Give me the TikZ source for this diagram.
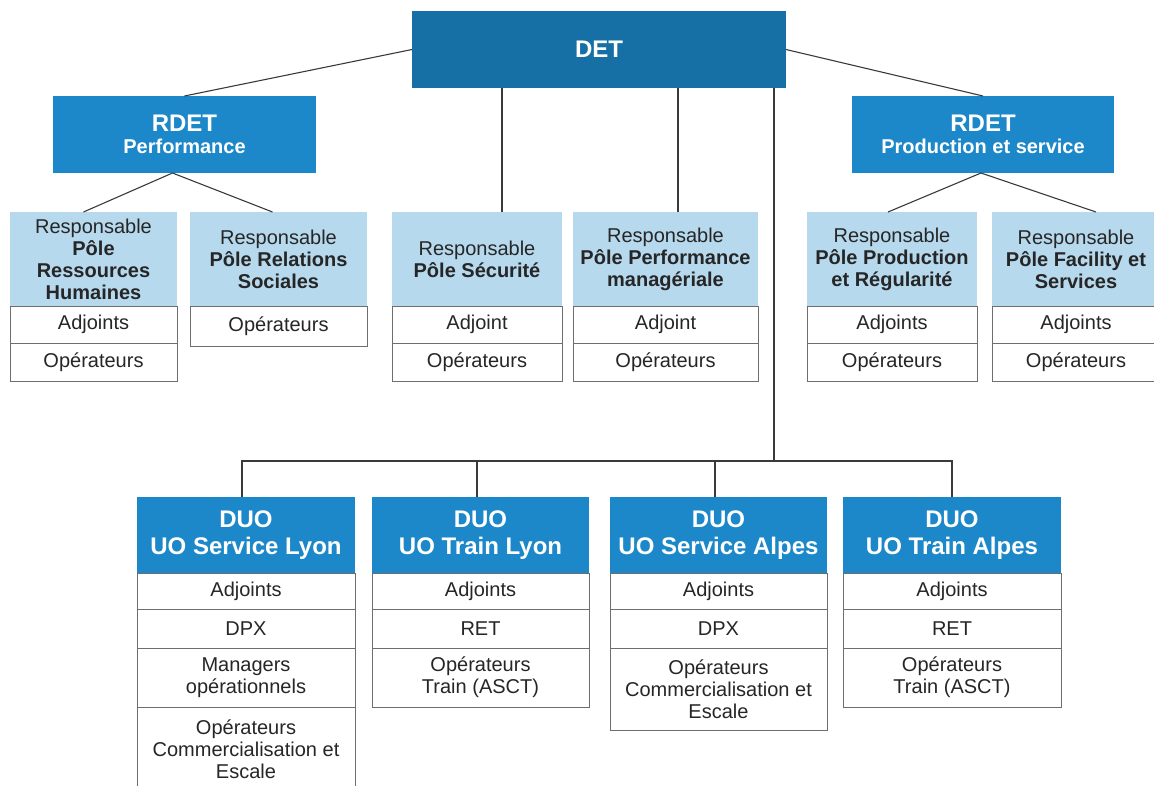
\documentclass[tikz,border=0pt]{standalone}
\usepackage{fontspec}
\setmainfont{Liberation Sans}
\definecolor{detblue}{HTML}{1670A6}
\definecolor{midblue}{HTML}{1C88C9}
\definecolor{lightblue}{HTML}{B6D9EE}
\definecolor{txt}{HTML}{262626}
\definecolor{bord}{HTML}{6E6E6E}
\definecolor{conncol}{HTML}{3A3A3A}
\begin{document}
\begin{tikzpicture}[x=1pt,y=-1pt,
 every node/.style={inner sep=0pt, outer sep=0pt, align=center},
 detbox/.style={fill=detblue, text=white, font=\bfseries\fontsize{24}{26}\selectfont},
 rdetbox/.style={fill=midblue, text=white, font=\bfseries\fontsize{20}{22}\selectfont, minimum height=77pt},
 headbox/.style={fill=lightblue, text=txt, font=\fontsize{20}{22}\selectfont, minimum height=94pt},
 rowbox/.style={draw=bord, line width=0.9pt, fill=white, text=txt, font=\fontsize{20}{22}\selectfont},
 duobox/.style={fill=midblue, text=white, font=\bfseries\fontsize{24}{26.5}\selectfont, minimum height=76pt},
 conn/.style={draw=conncol, line width=1.1pt}]
\useasboundingbox (0,0) rectangle (1154,785);

% top
\node[detbox, minimum width=374pt, minimum height=77pt] (det) at (599,49.5) {DET};
\node[rdetbox, minimum width=263pt] (rdetp) at (184.5,134.5) {{\fontsize{24}{26}\selectfont RDET}\\Performance};
\node[rdetbox, minimum width=262pt] (rdets) at (983,134.5) {{\fontsize{24}{26}\selectfont RDET}\\Production et service};

% poles
\node[headbox, minimum width=167pt] (h1) at (93.5,259) {Responsable\\\textbf{Pôle}\\\textbf{Ressources}\\\textbf{Humaines}};
\node[rowbox, minimum width=167pt, minimum height=37pt] (h1a) at (93.5,324.5) {Adjoints};
\node[rowbox, minimum width=167pt, minimum height=38pt] (h1b) at (93.5,362) {Opérateurs};

\node[headbox, minimum width=177pt] (h2) at (278.5,259) {Responsable\\\textbf{Pôle Relations}\\\textbf{Sociales}};
\node[rowbox, minimum width=177pt, minimum height=40pt] (h2a) at (278.5,326) {Opérateurs};

\node[headbox, minimum width=170pt] (h3) at (477,259) {Responsable\\\textbf{Pôle Sécurité}};
\node[rowbox, minimum width=170pt, minimum height=37pt] (h3a) at (477,324.5) {Adjoint};
\node[rowbox, minimum width=170pt, minimum height=38pt] (h3b) at (477,362) {Opérateurs};

\node[headbox, minimum width=185pt] (h4) at (665.5,259) {Responsable\\\textbf{Pôle Performance}\\\textbf{managériale}};
\node[rowbox, minimum width=185pt, minimum height=37pt] (h4a) at (665.5,324.5) {Adjoint};
\node[rowbox, minimum width=185pt, minimum height=38pt] (h4b) at (665.5,362) {Opérateurs};

\node[headbox, minimum width=170pt] (h5) at (892,259) {Responsable\\\textbf{Pôle Production}\\\textbf{et Régularité}};
\node[rowbox, minimum width=170pt, minimum height=37pt] (h5a) at (892,324.5) {Adjoints};
\node[rowbox, minimum width=170pt, minimum height=38pt] (h5b) at (892,362) {Opérateurs};

\node[headbox, minimum width=168pt] (h6) at (1076,259) {Responsable\\\textbf{Pôle Facility et}\\\textbf{Services}};
\node[rowbox, minimum width=168pt, minimum height=37pt] (h6a) at (1076,324.5) {Adjoints};
\node[rowbox, minimum width=168pt, minimum height=38pt] (h6b) at (1076,362) {Opérateurs};

% DUO
\node[duobox, minimum width=218pt] (d1h) at (246,535) {DUO\\UO Service Lyon};
\node[rowbox, minimum width=218pt, minimum height=36pt] (d1a) at (246,591) {Adjoints};
\node[rowbox, minimum width=218pt, minimum height=39pt] (d1b) at (246,628.5) {DPX};
\node[rowbox, minimum width=218pt, minimum height=59pt] (d1c) at (246,677.5) {Managers\\opérationnels};
\node[rowbox, minimum width=218pt, minimum height=85pt] (d1d) at (246,749.5) {Opérateurs\\Commercialisation et\\Escale};

\node[duobox, minimum width=217pt] (d2h) at (480.5,535) {DUO\\UO Train Lyon};
\node[rowbox, minimum width=217pt, minimum height=36pt] (d2a) at (480.5,591) {Adjoints};
\node[rowbox, minimum width=217pt, minimum height=39pt] (d2b) at (480.5,628.5) {RET};
\node[rowbox, minimum width=217pt, minimum height=59pt] (d2c) at (480.5,677.5) {Opérateurs\\Train (ASCT)};

\node[duobox, minimum width=217pt] (d3h) at (718.5,535) {DUO\\UO Service Alpes};
\node[rowbox, minimum width=217pt, minimum height=36pt] (d3a) at (718.5,591) {Adjoints};
\node[rowbox, minimum width=217pt, minimum height=39pt] (d3b) at (718.5,628.5) {DPX};
\node[rowbox, minimum width=217pt, minimum height=82pt] (d3c) at (718.5,689) {Opérateurs\\Commercialisation et\\Escale};

\node[duobox, minimum width=218pt] (d4h) at (952,535) {DUO\\UO Train Alpes};
\node[rowbox, minimum width=218pt, minimum height=36pt] (d4a) at (952,591) {Adjoints};
\node[rowbox, minimum width=218pt, minimum height=39pt] (d4b) at (952,628.5) {RET};
\node[rowbox, minimum width=218pt, minimum height=59pt] (d4c) at (952,677.5) {Opérateurs\\Train (ASCT)};

% connectors
\draw[conn] (det.west) -- (rdetp.north);
\draw[conn] (det.east) -- (rdets.north);
\draw[conn] ([xshift=-12pt]rdetp.south) -- ([xshift=-10pt]h1.north);
\draw[conn] ([xshift=-12pt]rdetp.south) -- ([xshift=-6pt]h2.north);
\draw[conn] ([xshift=-2pt]rdets.south) -- ([xshift=-4pt]h5.north);
\draw[conn] ([xshift=-2pt]rdets.south) -- ([xshift=20pt]h6.north);
\draw[conn] ([xshift=25pt]h3.north) -- ([xshift=25pt]h3.north |- det.south);
\draw[conn] ([xshift=12.5pt]h4.north) -- ([xshift=12.5pt]h4.north |- det.south);
\coordinate (jn) at (774,461);
\draw[conn] (det.south -| jn) -- (jn);
\draw[conn] ([xshift=-4pt]d1h.north) |- (jn) -| (d4h.north);
\draw[conn] ([xshift=-3.5pt]d2h.north) -- ([xshift=-3.5pt]d2h.north |- jn);
\draw[conn] ([xshift=-3.5pt]d3h.north) -- ([xshift=-3.5pt]d3h.north |- jn);
\end{tikzpicture}
\end{document}
